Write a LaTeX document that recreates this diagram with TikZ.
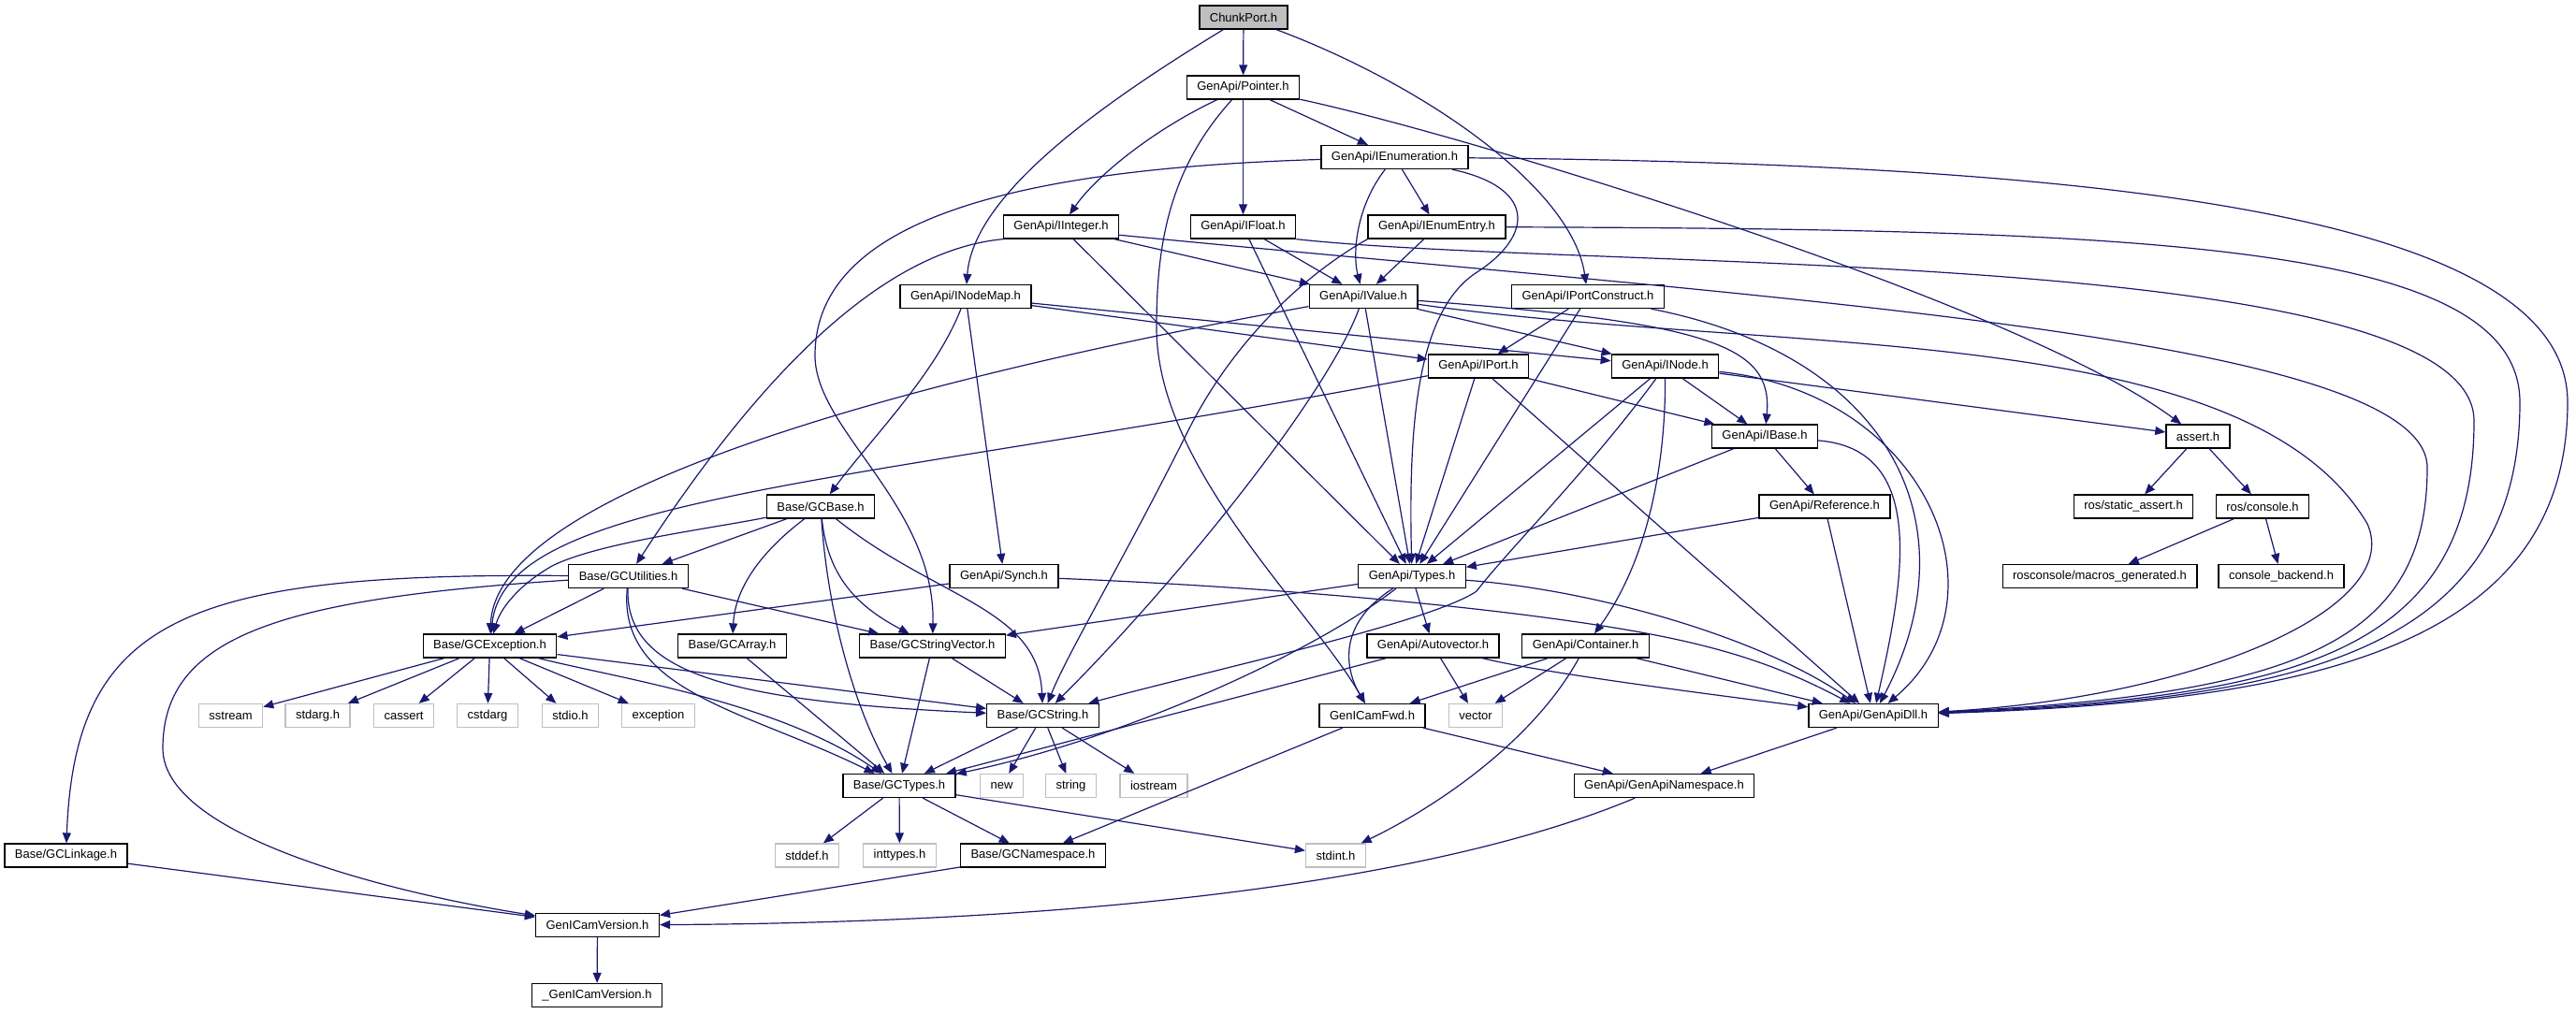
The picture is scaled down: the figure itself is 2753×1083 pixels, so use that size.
\documentclass[tikz,border=0pt]{standalone}
\usepackage{fontspec}
\usepackage{tikz}
\usetikzlibrary{arrows.meta}
\newfontfamily\hdrfont{Liberation Sans}
\definecolor{incblue}{HTML}{191970}
\definecolor{sysgray}{HTML}{BFBFBF}
\tikzset{
  hdr/.style={draw=black, fill=white, line width=0.65pt, inner xsep=5.5pt, inner ysep=0pt,
    minimum height=12.5pt, font=\hdrfont\fontsize{6.5}{7}\selectfont},
  syshdr/.style={hdr, draw=sysgray},
  mainhdr/.style={hdr, fill=sysgray},
  inc/.style={draw=incblue, line width=0.6pt, -{Triangle[length=5.5pt,width=4.5pt]}}
}
\begin{document}
\begin{tikzpicture}[x=0.5pt,y=-0.5pt]
\useasboundingbox (0,0) rectangle (2753,1083);
\node [mainhdr] (chunk) at (1329,18.5) {ChunkPort.h};
\node [hdr] (pointer) at (1328.5,93.5) {GenApi/Pointer.h};
\node [hdr] (ienum) at (1490.5,168) {GenApi/IEnumeration.h};
\node [hdr] (iint) at (1134,242.5) {GenApi/IInteger.h};
\node [hdr] (ifloat) at (1328.5,242.5) {GenApi/IFloat.h};
\node [hdr] (ienumentry) at (1535.5,242.5) {GenApi/IEnumEntry.h};
\node [hdr] (inodemap) at (1032,317) {GenApi/INodeMap.h};
\node [hdr] (ivalue) at (1457,317) {GenApi/IValue.h};
\node [hdr] (iportc) at (1697,317) {GenApi/IPortConstruct.h};
\node [hdr] (iport) at (1580,391.5) {GenApi/IPort.h};
\node [hdr] (inode) at (1779.5,391.5) {GenApi/INode.h};
\node [hdr] (ibase) at (1886,466.5) {GenApi/IBase.h};
\node [hdr] (assert) at (2349,466.5) {assert.h};
\node [hdr] (gcbase) at (877,541.5) {Base/GCBase.h};
\node [hdr] (reference) at (1950,541.5) {GenApi/Reference.h};
\node [hdr] (staticassert) at (2280,541.5) {ros/static\_assert.h};
\node [hdr] (console) at (2418,541.5) {ros/console.h};
\node [hdr] (gcutil) at (671.5,616) {Base/GCUtilities.h};
\node [hdr] (synch) at (1073,616) {GenApi/Synch.h};
\node [hdr] (types) at (1509,616) {GenApi/Types.h};
\node [hdr] (macros) at (2244,616) {rosconsole/macros\_generated.h};
\node [hdr] (backend) at (2438,616) {console\_backend.h};
\node [hdr] (gcexc) at (523.5,690.5) {Base/GCException.h};
\node [hdr] (gcarray) at (782.5,690.5) {Base/GCArray.h};
\node [hdr] (gcsv) at (996.5,690.5) {Base/GCStringVector.h};
\node [hdr] (autovec) at (1531.5,690.5) {GenApi/Autovector.h};
\node [hdr] (container) at (1694.5,690.5) {GenApi/Container.h};
\node [syshdr] (sstream) at (246.5,765) {sstream};
\node [syshdr] (stdargh) at (339.5,765) {stdarg.h};
\node [syshdr] (cassert) at (431.5,765) {cassert};
\node [syshdr] (cstdarg) at (521,765) {cstdarg};
\node [syshdr] (stdioh) at (609.5,765) {stdio.h};
\node [syshdr] (exception) at (703.5,765) {exception};
\node [hdr] (gcstring) at (1114.5,765) {Base/GCString.h};
\node [hdr] (gcfwd) at (1466.5,765) {GenICamFwd.h};
\node [syshdr] (vectorh) at (1577,765) {vector};
\node [hdr] (genapidll) at (2002,765) {GenApi/GenApiDll.h};
\node [hdr] (gctypes) at (961,840) {Base/GCTypes.h};
\node [syshdr] (newh) at (1070.5,840) {new};
\node [syshdr] (stringh) at (1144.5,840) {string};
\node [syshdr] (iostream) at (1233,840) {iostream};
\node [hdr] (genapins) at (1778.5,840) {GenApi/GenApiNamespace.h};
\node [hdr] (gclinkage) at (70.5,914.5) {Base/GCLinkage.h};
\node [syshdr] (stddefh) at (862.5,914.5) {stddef.h};
\node [syshdr] (inttypesh) at (961.5,914.5) {inttypes.h};
\node [hdr] (gcns) at (1104,914.5) {Base/GCNamespace.h};
\node [syshdr] (stdinth) at (1427.5,914.5) {stdint.h};
\node [hdr] (gicv) at (638.5,989) {GenICamVersion.h};
\node [hdr] (gicvx) at (638,1064) {\_GenICamVersion.h};

\draw [inc] (chunk) -- (pointer);
\draw [inc] (chunk) .. controls (1170,115) and (1040,210) .. (inodemap);
\draw [inc] (chunk) .. controls (1520,90) and (1680,200) .. (iportc);

\draw [inc] (pointer) .. controls (1230,140) and (1170,190) .. (iint);
\draw [inc] (pointer) -- (ifloat);
\draw [inc] (pointer) -- (ienum);
\draw [inc] (pointer) .. controls (1250,180) and (1236,260) .. (1236,350) .. controls (1236,500) and (1400,650) .. (gcfwd);
\draw [inc] (pointer) .. controls (1550,140) and (2150,320) .. (assert);

\draw [inc] (ienum) -- (ienumentry);
\draw [inc] (ienum) .. controls (1450,220) and (1445,270) .. (ivalue);
\draw [inc] (ienum) .. controls (1640,200) and (1640,250) .. (1580,290) .. controls (1515,330) and (1505,450) .. (types);
\draw [inc] (ienum) .. controls (2200,175) and (2744,220) .. (2744,430) .. controls (2744,700) and (2450,750) .. (genapidll);
\draw [inc] (ienum) .. controls (1100,180) and (871,230) .. (871,380) .. controls (871,460) and (1000,540) .. (gcsv);

\draw [inc] (ienumentry) -- (ivalue);
\draw [inc] (ienumentry) .. controls (2300,245) and (2693,260) .. (2693,430) .. controls (2693,700) and (2450,748) .. (genapidll);
\draw [inc] (ienumentry.south west) .. controls (1400,290) and (1320,360) .. (1270,460) .. controls (1200,600) and (1140,700) .. (gcstring);

\draw [inc] (iint.south west) .. controls (920,270) and (780,450) .. (gcutil);
\draw [inc] (iint) -- (types);
\draw [inc] (iint) -- (ivalue);
\draw [inc] (iint.-8) .. controls (1900,320) and (2594,360) .. (2594,500) .. controls (2594,690) and (2450,742) .. (genapidll);

\draw [inc] (ifloat) -- (ivalue);
\draw [inc] (ifloat) -- (types);
\draw [inc] (ifloat.south east) .. controls (1700,290) and (2644,262) .. (2644,450) .. controls (2644,700) and (2450,745) .. (genapidll);

\draw [inc] (inodemap) .. controls (1000,400) and (930,470) .. (gcbase);
\draw [inc] (inodemap) -- (synch);
\draw [inc] (inodemap) -- (iport);
\draw [inc] (inodemap) -- (inode);

\draw [inc] (ivalue) .. controls (1000,400) and (530,520) .. (gcexc);
\draw [inc] (ivalue) -- (types);
\draw [inc] (ivalue) .. controls (1420,420) and (1260,620) .. (gcstring);
\draw [inc] (ivalue) -- (inode);
\draw [inc] (ivalue) .. controls (1830,345) and (1895,370) .. (ibase);
\draw [inc] (ivalue) .. controls (1900,380) and (2400,340) .. (2530,560) .. controls (2570,650) and (2350,745) .. (genapidll);

\draw [inc] (iportc) -- (iport);
\draw [inc] (iportc) -- (types);
\draw [inc] (iportc) .. controls (2020,380) and (2110,560) .. (genapidll);

\draw [inc] (iport) .. controls (900,520) and (540,530) .. (gcexc);
\draw [inc] (iport) -- (types);
\draw [inc] (iport) -- (genapidll);
\draw [inc] (iport) -- (ibase);

\draw [inc] (inode) -- (types);
\draw [inc] (inode) .. controls (1700,500) and (1610,590) .. (1578,632) .. controls (1530,665) and (1300,715) .. (gcstring);
\draw [inc] (inode) .. controls (1780,500) and (1760,600) .. (container);
\draw [inc] (inode) -- (ibase);
\draw [inc] (inode) -- (assert);
\draw [inc] (inode) .. controls (2060,420) and (2150,640) .. (genapidll);

\draw [inc] (ibase) -- (types);
\draw [inc] (ibase) -- (reference);
\draw [inc] (ibase) .. controls (2060,480) and (2035,620) .. (genapidll);

\draw [inc] (reference) -- (types);
\draw [inc] (reference) -- (genapidll);

\draw [inc] (assert) -- (staticassert);
\draw [inc] (assert) -- (console);
\draw [inc] (console) -- (macros);
\draw [inc] (console) -- (backend);

\draw [inc] (gcbase) -- (gcutil);
\draw [inc] (gcbase) .. controls (760,565) and (640,580) .. (590,605) .. controls (555,625) and (535,650) .. (gcexc);
\draw [inc] (gcbase) .. controls (800,600) and (785,640) .. (gcarray);
\draw [inc] (gcbase) .. controls (885,620) and (920,650) .. (gcsv);
\draw [inc] (gcbase) .. controls (1000,640) and (1110,650) .. (gcstring);
\draw [inc] (gcbase) .. controls (885,660) and (915,760) .. (gctypes);

\draw [inc] (gcutil) -- (gcexc);
\draw [inc] (gcutil) -- (gcsv);
\draw [inc] (gcutil) .. controls (668,720) and (780,750) .. (gcstring);
\draw [inc] (gcutil) .. controls (660,740) and (800,760) .. (gctypes);
\draw [inc] (gcutil) .. controls (200,612) and (80,660) .. (gclinkage);
\draw [inc] (gcutil) .. controls (300,640) and (174,680) .. (174,800) .. controls (174,900) and (450,960) .. (gicv);

\draw [inc] (synch) -- (gcexc);
\draw [inc] (synch) .. controls (1300,625) and (1500,640) .. (1650,660) .. controls (1800,680) and (1880,700) .. (genapidll);

\draw [inc] (types) -- (gcsv);
\draw [inc] (types) .. controls (1425,670) and (1440,720) .. (gcfwd);
\draw [inc] (types) -- (autovec);
\draw [inc] (types) .. controls (1400,700) and (1200,790) .. (gctypes);
\draw [inc] (types) .. controls (1700,630) and (1880,680) .. (genapidll);

\draw [inc] (autovec) -- (gctypes);
\draw [inc] (autovec) -- (vectorh);
\draw [inc] (autovec) .. controls (1650,720) and (1850,745) .. (genapidll);

\draw [inc] (container) -- (gcfwd);
\draw [inc] (container) -- (vectorh);
\draw [inc] (container) .. controls (1640,790) and (1540,860) .. (stdinth);
\draw [inc] (container) -- (genapidll);

\draw [inc] (gcexc) -- (sstream);
\draw [inc] (gcexc) -- (stdargh);
\draw [inc] (gcexc) -- (cassert);
\draw [inc] (gcexc) -- (cstdarg);
\draw [inc] (gcexc) -- (stdioh);
\draw [inc] (gcexc) -- (exception);
\draw [inc] (gcexc) -- (gcstring);
\draw [inc] (gcexc) .. controls (660,725) and (830,750) .. (gctypes);

\draw [inc] (gcarray) -- (gctypes);
\draw [inc] (gcsv) -- (gcstring);
\draw [inc] (gcsv) -- (gctypes);

\draw [inc] (gcstring) -- (gctypes);
\draw [inc] (gcstring) -- (newh);
\draw [inc] (gcstring) -- (stringh);
\draw [inc] (gcstring) -- (iostream);

\draw [inc] (gcfwd) -- (gcns);
\draw [inc] (gcfwd) -- (genapins);
\draw [inc] (genapidll) -- (genapins);

\draw [inc] (gctypes) -- (stddefh);
\draw [inc] (gctypes) -- (inttypesh);
\draw [inc] (gctypes) -- (gcns);
\draw [inc] (gctypes) -- (stdinth);

\draw [inc] (gcns) -- (gicv);
\draw [inc] (genapins) .. controls (1600,915) and (1300,985) .. (gicv);
\draw [inc] (gclinkage) -- (gicv);
\draw [inc] (gicv) -- (gicvx);
\end{tikzpicture}
\end{document}
